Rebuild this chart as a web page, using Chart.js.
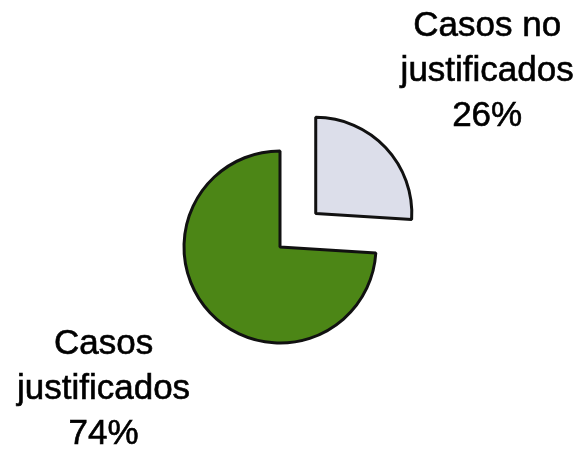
<!DOCTYPE html>
<html lang="es">
<head>
<meta charset="UTF-8">
<title>Casos justificados</title>
<script src="https://cdn.jsdelivr.net/npm/chart.js"></script>
<style>
    body { margin: 0; padding: 0; background: #fff; }
    .wrap { width: 585px; height: 451px; position: relative; }
</style>
</head>
<body>
<div class="wrap"><canvas id="pie"></canvas></div>
<script>
// data
const labels = [['Casos no', 'justificados'], ['Casos', 'justificados']];
const values = [26, 74];
const colors = ['#dcdeea', '#4c8616'];
const explode = [196, 0]; // chart.js moves the arc by offset/4

// draws the text labels next to each slice
const sliceLabels = {
    id: 'sliceLabels',
    afterDatasetsDraw(chart) {
        const ctx = chart.ctx;
        const arcs = chart.getDatasetMeta(0).data;
        const total = values.reduce((a, b) => a + b, 0);
        const nudge = [[14, 6], [-19, -6]];
        ctx.save();
        ctx.font = '35px "Liberation Sans", Arial, sans-serif';
        ctx.fillStyle = '#000';
        ctx.strokeStyle = '#000';
        ctx.lineWidth = 0.6;
        ctx.textAlign = 'center';
        ctx.textBaseline = 'middle';
        arcs.forEach((arc, i) => {
            const p = arc.getProps(['x', 'y', 'startAngle', 'endAngle', 'outerRadius'], true);
            const mid = (p.startAngle + p.endAngle) / 2;
            const off = explode[i] / 4;
            const dist = p.outerRadius * 2.25 + off;
            const cx = p.x + Math.cos(mid) * dist + nudge[i][0];
            const cy = p.y + Math.sin(mid) * dist + nudge[i][1];
            const lines = labels[i].concat([Math.round(values[i] / total * 100) + '%']);
            lines.forEach((t, k) => {
                ctx.fillText(t, cx, cy + (k - 1) * 45);
                ctx.strokeText(t, cx, cy + (k - 1) * 45);
            });
        });
        ctx.restore();
    }
};

new Chart(document.getElementById('pie'), {
    type: 'pie',
    data: {
        labels: labels.map(l => l.join(' ')),
        datasets: [{
            data: values,
            backgroundColor: colors,
            borderColor: '#111',
            borderWidth: 3,
            offset: explode,
            hoverOffset: 0
        }]
    },
    options: {
        responsive: true,
        maintainAspectRatio: false,
        animation: false,
        radius: 96,
        layout: { padding: { left: 0, right: 25, top: 43, bottom: 0 } },
        plugins: {
            legend: { display: false },
            tooltip: { enabled: false }
        }
    },
    plugins: [sliceLabels]
});
</script>
</body>
</html>
